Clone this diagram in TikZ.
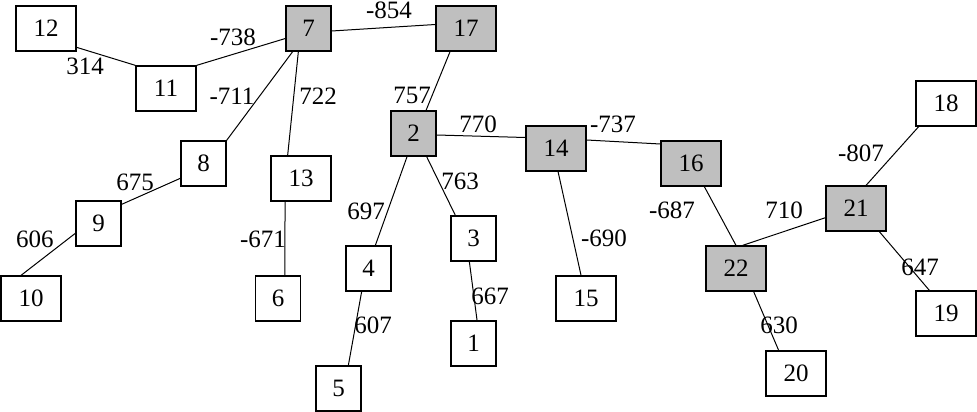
\documentclass[tikz,border=0pt]{standalone}
\usepackage{fontspec}
\setmainfont{Liberation Serif}
\usetikzlibrary{calc}
\tikzset{
  nbox/.style={draw, line width=1.3pt, minimum width=45pt, minimum height=45pt, inner sep=0pt, font=\fontsize{25}{29}\selectfont},
  wbox/.style={nbox, minimum width=60pt},
  hot/.style={fill=lightgray},
  lbl/.style={inner sep=0pt, font=\fontsize{25}{29}\selectfont},
  edge/.style={line width=1pt}
}
\begin{document}
\begin{tikzpicture}[x=1pt,y=-1pt]
\useasboundingbox (0,0) rectangle (977,412);
% nodes
\node[wbox] (n12) at (46,28.5) {12};
\node[wbox] (n11) at (166,88.5) {11};
\node[nbox,hot] (n7) at (308.5,28.5) {7};
\node[wbox,hot] (n17) at (466,28.5) {17};
\node[nbox] (n8) at (203.5,163.5) {8};
\node[wbox] (n13) at (301,178.5) {13};
\node[nbox,hot] (n2) at (413.5,133.5) {2};
\node[wbox,hot] (n14) at (556,148.5) {14};
\node[wbox,hot] (n16) at (691,163.5) {16};
\node[wbox,hot] (n21) at (856,208.5) {21};
\node[wbox] (n18) at (946,103.5) {18};
\node[nbox] (n9) at (98.5,223.5) {9};
\node[wbox] (n10) at (31,298.5) {10};
\node[nbox] (n6) at (278,298.5) {6};
\node[nbox] (n4) at (368.5,268.5) {4};
\node[nbox] (n3) at (473.5,238.5) {3};
\node[nbox] (n1) at (473.5,343.5) {1};
\node[wbox] (n15) at (586,298.5) {15};
\node[wbox,hot] (n22) at (736,268.5) {22};
\node[wbox] (n20) at (796,373.5) {20};
\node[wbox] (n19) at (946,313.5) {19};
\node[nbox] (n5) at (338.5,388.5) {5};
% edges
\draw[edge] ($(n12.south east)+(0,-4.3)$) -- (n11.north west);
\draw[edge] (n11.north east) -- ($(n7.west)+(0,10)$);
\draw[edge] ($(n7.east)+(0,2.5)$) -- ($(n17.west)+(0,-4)$);
\draw[edge] ($(n7.south west)+(7.3,0)$) -- (n8.north east);
\draw[edge] ($(n7.south west)+(13,0)$) -- ($(n13.north west)+(17.3,0)$);
\draw[edge] ($(n17.south west)+(14.7,0)$) -- ($(n2.north west)+(35.7,0)$);
\draw[edge] ($(n2.east)+(0,1.5)$) -- ($(n14.west)+(0,-11)$);
\draw[edge] ($(n2.south west)+(16.7,0)$) -- ($(n4.north west)+(30,0)$);
\draw[edge] ($(n2.south west)+(36.3,0)$) -- ($(n3.north west)+(5,0)$);
\draw[edge] ($(n14.east)+(0,-8.5)$) -- ($(n16.west)+(0,-19.5)$);
\draw[edge] ($(n14.south west)+(32.7,0)$) -- ($(n15.north west)+(25.7,0)$);
\draw[edge] ($(n16.south west)+(44,0)$) -- (n22.north);
\draw[edge] ($(n22.north west)+(37.3,0)$) -- ($(n21.west)+(0,9.2)$);
\draw[edge] ($(n21.north west)+(40.7,0)$) -- ($(n18.south west)+(3.3,0)$);
\draw[edge] ($(n21.south west)+(54,0)$) -- ($(n19.north west)+(14,0)$);
\draw[edge] ($(n22.south west)+(48.3,0)$) -- ($(n20.north west)+(13.3,0)$);
\draw[edge] ($(n8.west)+(0,14.8)$) -- ($(n9.north east)+(0,4)$);
\draw[edge] ($(n9.west)+(0,9.8)$) -- ($(n10.north west)+(20.7,0)$);
\draw[edge] ($(n13.south west)+(14.7,0)$) -- ($(n6.north west)+(30,0)$);
\draw[edge] ($(n3.south west)+(19,0)$) -- ($(n1.north west)+(26.7,0)$);
\draw[edge] ($(n4.south west)+(16.3,0)$) -- ($(n5.north west)+(33,0)$);
% labels
\node[lbl] (l314) at (85,66) {314};
\node[lbl] (l738) at (233,37.5) {-738};
\node[lbl] (l711) at (232,96) {-711};
\node[lbl] (l722) at (318,96) {722};
\node[lbl] (l854) at (389,10.5) {-854};
\node[lbl] (l757) at (412,95) {757};
\node[lbl] (l770) at (478,124) {770};
\node[lbl] (l737) at (613,124) {-737};
\node[lbl] (l763) at (460,181) {763};
\node[lbl] (l807) at (861,153) {-807};
\node[lbl] (l687) at (672,210) {-687};
\node[lbl] (l710) at (784,210) {710};
\node[lbl] (l647) at (920,267) {647};
\node[lbl] (l630) at (779,325) {630};
\node[lbl] (l675) at (135,182) {675};
\node[lbl] (l606) at (35,239) {606};
\node[lbl] (l671) at (263,239) {-671};
\node[lbl] (l697) at (366,211) {697};
\node[lbl] (l667) at (490,296) {667};
\node[lbl] (l690) at (604,238) {-690};
\node[lbl] (l607) at (373,325) {607};
\end{tikzpicture}
\end{document}
